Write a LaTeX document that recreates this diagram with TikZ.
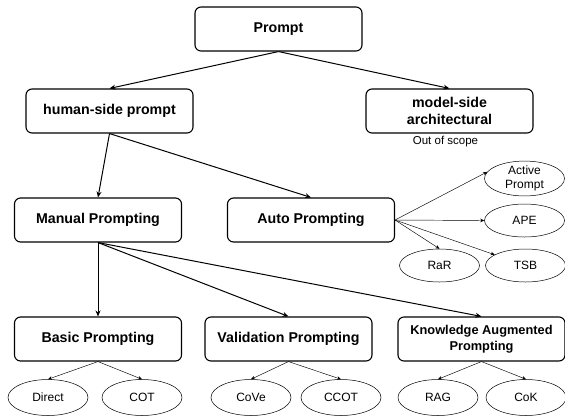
\documentclass[tikz,border=0pt]{standalone}
\usepackage{fontspec}
\setmainfont{Liberation Sans}
\usetikzlibrary{arrows.meta,shapes.geometric}

\begin{document}
\begin{tikzpicture}[x=1pt,y=-1pt,
   box/.style={draw,rounded corners=6pt,line width=1.1pt,minimum width=167pt,
      minimum height=44pt,align=center,font=\fontsize{14.2}{17}\selectfont\bfseries},
   leaf/.style={draw,ellipse,line width=0.5pt,minimum width=80pt,minimum height=36pt,
      inner sep=0pt,align=center,font=\fontsize{12}{13.5}\selectfont},
   link/.style={-{Stealth[length=6pt,width=5pt]},line width=1pt},
   twig/.style={-{Stealth[length=4pt,width=3.5pt]},line width=0.45pt}]
\useasboundingbox (0,0) rectangle (565,416);
% top levels
\node[box] (prompt) at (278.5,29) {Prompt};
\node[box] (human) at (109.5,111) {human-side prompt};
\node[box] (model) at (449.5,111) {model-side\\architectural};
\node[font=\fontsize{11.5}{13}\selectfont] (scope) at (445.5,142) {Out of scope};
\node[box] (manual) at (98,220) {Manual Prompting};
\node[box] (auto) at (311,220) {Auto Prompting};
\node[box] (basic) at (98,339) {Basic Prompting};
\node[box] (valid) at (288.5,339) {Validation Prompting};
\node[box,font=\fontsize{12.8}{16}\selectfont\bfseries] (know) at (481.5,339)
   {Knowledge Augmented\\Prompting};
% leaves
\node[leaf,minimum height=33pt] (act) at (524.5,178.5) {Active\\Prompt};
\node[leaf,minimum height=33pt] (ape) at (524.5,220.5) {APE};
\node[leaf,minimum height=33pt] (rar) at (439.5,265.5) {RaR};
\node[leaf,minimum height=33pt] (tsb) at (525.5,265.5) {TSB};
\node[leaf] (direct) at (48,397.5) {Direct};
\node[leaf] (cot) at (142,397.5) {COT};
\node[leaf] (cove) at (251,397.5) {CoVe};
\node[leaf] (ccot) at (341,397.5) {CCOT};
\node[leaf] (rag) at (438,397.5) {RAG};
\node[leaf] (cok) at (526,397.5) {CoK};
% connectors
\draw[link] (prompt.south) -- (human.north);
\draw[link] (prompt.south) -- (model.north);
\draw[link] (human.south) -- (manual.north);
\draw[link] (human.south) -- (auto.north);
\foreach \b in {basic,valid,know}
   \draw[link] (manual.south) -- (\b.north);
\draw[twig] (auto.east) -- (act.170);
\draw[twig] (auto.east) -- (ape.west);
\draw[twig] (auto.east) -- (rar.north);
\draw[twig] (auto.east) -- (tsb);
\draw[twig] (basic.south) -- (direct.north);
\draw[twig] (basic.south) -- (cot.north);
\draw[twig] (valid.south) -- (cove.north);
\draw[twig] (valid.south) -- (ccot.north);
\draw[twig] (know.south) -- (rag.north);
\draw[twig] (know.south) -- (cok.north);
\end{tikzpicture}
\end{document}
